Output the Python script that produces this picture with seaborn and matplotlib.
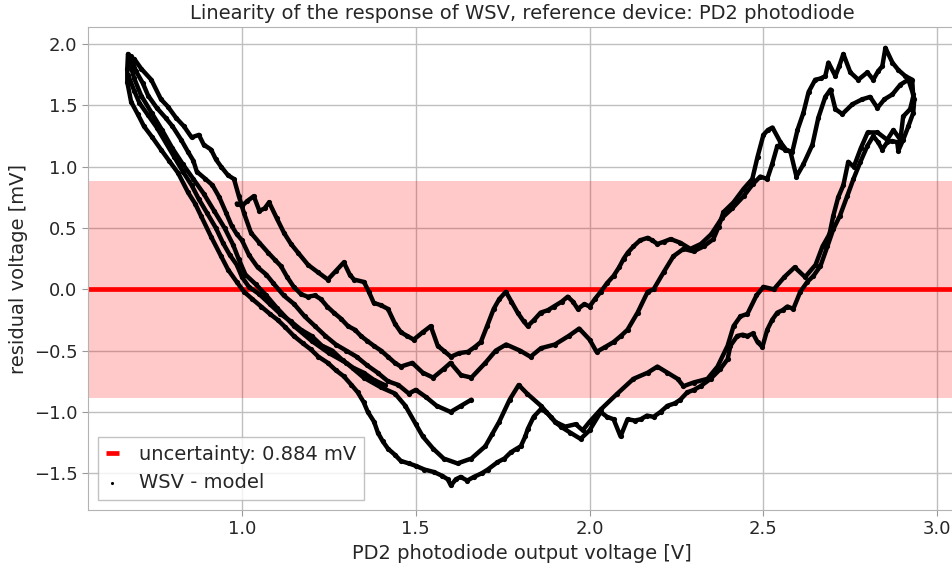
import numpy as np
import pandas as pd
import matplotlib
matplotlib.use("Agg")
import matplotlib.pyplot as plt
import seaborn as sns

# Residuals (WSV - model, mV) against PD2 photodiode output voltage (V),
# one list of (voltage, residual) points per sweep of the light level.
sweep_1 = [
    (0.672, 1.92), (0.670, 1.80), (0.670, 1.69), (0.681, 1.53), (0.700, 1.43), (0.718, 1.33),
    (0.742, 1.24), (0.767, 1.14), (0.790, 1.05), (0.816, 0.95), (0.845, 0.79), (0.865, 0.70),
    (0.882, 0.60), (0.911, 0.43), (0.940, 0.27), (0.960, 0.16), (0.985, 0.06), (1.006, -0.02),
    (1.030, -0.08), (1.055, -0.14), (1.080, -0.20), (1.103, -0.25), (1.125, -0.31), (1.149, -0.38),
    (1.175, -0.44), (1.198, -0.49), (1.220, -0.55), (1.247, -0.60), (1.270, -0.66), (1.293, -0.71),
    (1.315, -0.78), (1.333, -0.84), (1.350, -0.92), (1.362, -1.00), (1.380, -1.08), (1.391, -1.17),
    (1.405, -1.24), (1.420, -1.30), (1.440, -1.35), (1.457, -1.40), (1.480, -1.42), (1.500, -1.44),
    (1.525, -1.47), (1.552, -1.49), (1.575, -1.52), (1.592, -1.55), (1.601, -1.60), (1.615, -1.55),
    (1.629, -1.53), (1.648, -1.56), (1.667, -1.53), (1.690, -1.50), (1.707, -1.47), (1.735, -1.41),
    (1.755, -1.38), (1.773, -1.33), (1.790, -1.30), (1.802, -1.28), (1.815, -1.20), (1.822, -1.14),
    (1.839, -1.04), (1.859, -0.98), (1.875, -1.00), (1.888, -1.04), (1.905, -1.09), (1.917, -1.12),
    (1.945, -1.17), (1.974, -1.22), (2.000, -1.15), (2.032, -1.00), (2.050, -1.04), (2.069, -1.06),
    (2.089, -1.20), (2.109, -1.06), (2.130, -1.07), (2.147, -1.06), (2.165, -1.03), (2.184, -1.04),
    (2.204, -1.00), (2.224, -0.95), (2.245, -0.93), (2.261, -0.90), (2.281, -0.84), (2.300, -0.82),
    (2.319, -0.79), (2.348, -0.73), (2.376, -0.65), (2.397, -0.57), (2.405, -0.46), (2.425, -0.38),
    (2.440, -0.37), (2.454, -0.38), (2.470, -0.36), (2.483, -0.43), (2.497, -0.47), (2.511, -0.33),
    (2.525, -0.25), (2.540, -0.19), (2.555, -0.17), (2.569, -0.14), (2.586, -0.16), (2.606, -0.02),
    (2.626, 0.06), (2.644, 0.11), (2.664, 0.19), (2.684, 0.35), (2.701, 0.49), (2.720, 0.60),
    (2.741, 0.76), (2.759, 0.90), (2.779, 1.04), (2.799, 1.17), (2.816, 1.25), (2.830, 1.20),
    (2.842, 1.14), (2.856, 1.20), (2.870, 1.21), (2.885, 1.20), (2.888, 1.13), (2.902, 1.22),
    (2.917, 1.33), (2.931, 1.44), (2.934, 1.55),
]

sweep_2 = [
    (0.676, 1.86), (0.690, 1.72), (0.710, 1.58), (0.740, 1.44), (0.770, 1.30), (0.800, 1.15),
    (0.830, 1.02), (0.860, 0.90), (0.890, 0.78), (0.920, 0.64), (0.950, 0.50), (0.975, 0.36),
    (0.990, 0.25), (1.010, 0.12), (1.040, 0.04), (1.070, -0.05), (1.100, -0.15), (1.150, -0.30),
    (1.200, -0.42), (1.250, -0.52), (1.300, -0.60), (1.350, -0.72), (1.400, -0.80), (1.440, -0.85),
    (1.470, -0.95), (1.500, -1.10), (1.520, -1.20), (1.550, -1.30), (1.580, -1.38), (1.620, -1.42),
    (1.660, -1.38), (1.700, -1.28), (1.720, -1.18), (1.740, -1.08), (1.770, -0.90), (1.796, -0.78),
    (1.820, -0.85), (1.860, -0.95), (1.900, -1.08), (1.930, -1.12), (1.960, -1.10), (1.980, -1.15),
    (2.000, -1.08), (2.032, -0.98), (2.080, -0.85), (2.126, -0.73), (2.167, -0.68), (2.195, -0.63),
    (2.224, -0.68), (2.253, -0.73), (2.270, -0.79), (2.299, -0.76), (2.339, -0.73), (2.368, -0.63),
    (2.397, -0.46), (2.414, -0.30), (2.434, -0.22), (2.454, -0.20), (2.480, -0.05), (2.500, 0.02),
    (2.530, 0.00), (2.560, 0.10), (2.590, 0.18), (2.620, 0.10), (2.650, 0.20), (2.670, 0.35),
    (2.690, 0.45), (2.701, 0.60), (2.715, 0.75), (2.730, 0.85), (2.744, 1.04), (2.760, 1.00),
    (2.780, 1.15), (2.800, 1.28), (2.828, 1.28), (2.856, 1.22), (2.874, 1.30), (2.894, 1.22),
    (2.902, 1.41), (2.922, 1.47), (2.931, 1.57),
]

sweep_3 = [
    (0.690, 1.88), (0.710, 1.80), (0.739, 1.71), (0.767, 1.55), (0.787, 1.49), (0.810, 1.40),
    (0.833, 1.33), (0.855, 1.24), (0.876, 1.26), (0.890, 1.18), (0.911, 1.14), (0.925, 1.06),
    (0.940, 1.00), (0.960, 0.93), (0.977, 0.90), (0.991, 0.76), (1.006, 0.62), (1.026, 0.46),
    (1.050, 0.38), (1.075, 0.30), (1.095, 0.24), (1.112, 0.19), (1.130, 0.10), (1.149, 0.02),
    (1.170, -0.04), (1.189, -0.06), (1.210, -0.05), (1.227, -0.08), (1.245, -0.14), (1.264, -0.19),
    (1.285, -0.24), (1.305, -0.30), (1.325, -0.33), (1.342, -0.38), (1.360, -0.42), (1.379, -0.46),
    (1.400, -0.50), (1.420, -0.55), (1.440, -0.60), (1.457, -0.63), (1.490, -0.60), (1.520, -0.68),
    (1.550, -0.72), (1.580, -0.65), (1.600, -0.60), (1.630, -0.70), (1.660, -0.72), (1.700, -0.60),
    (1.730, -0.50), (1.760, -0.45), (1.800, -0.50), (1.830, -0.55), (1.860, -0.48), (1.900, -0.45),
    (1.940, -0.38), (1.970, -0.32), (2.000, -0.41), (2.020, -0.51), (2.045, -0.47), (2.069, -0.43),
    (2.090, -0.38), (2.109, -0.33), (2.138, -0.19), (2.167, -0.02), (2.184, 0.00), (2.213, 0.14),
    (2.241, 0.27), (2.270, 0.33), (2.299, 0.31), (2.328, 0.35), (2.356, 0.41), (2.371, 0.51),
    (2.385, 0.63), (2.414, 0.71), (2.443, 0.82), (2.468, 0.90), (2.483, 1.08), (2.500, 1.26),
    (2.513, 1.30), (2.526, 1.32), (2.549, 1.20), (2.565, 1.14), (2.578, 1.12), (2.595, 0.92),
    (2.615, 1.02), (2.641, 1.18), (2.658, 1.40), (2.678, 1.57), (2.693, 1.63), (2.707, 1.47),
    (2.727, 1.43), (2.756, 1.51), (2.784, 1.55), (2.807, 1.57), (2.828, 1.48), (2.848, 1.55),
    (2.871, 1.59), (2.894, 1.67), (2.917, 1.71), (2.931, 1.59),
]

sweep_4 = [
    (0.985, 0.70), (1.000, 0.68), (1.015, 0.72), (1.034, 0.76), (1.050, 0.64), (1.065, 0.66),
    (1.078, 0.71), (1.100, 0.58), (1.121, 0.46), (1.141, 0.37), (1.161, 0.30), (1.190, 0.20),
    (1.218, 0.14), (1.247, 0.08), (1.270, 0.15), (1.293, 0.22), (1.310, 0.12), (1.322, 0.08),
    (1.351, 0.06), (1.365, -0.02), (1.379, -0.11), (1.400, -0.13), (1.420, -0.16), (1.440, -0.28),
    (1.457, -0.35), (1.475, -0.38), (1.494, -0.41), (1.520, -0.35), (1.543, -0.30), (1.563, -0.46),
    (1.580, -0.50), (1.601, -0.55), (1.625, -0.52), (1.650, -0.51), (1.670, -0.47), (1.687, -0.43),
    (1.705, -0.30), (1.724, -0.16), (1.740, -0.08), (1.759, -0.02), (1.775, -0.10), (1.793, -0.19),
    (1.810, -0.26), (1.822, -0.30), (1.840, -0.25), (1.859, -0.19), (1.880, -0.17), (1.897, -0.14),
    (1.920, -0.10), (1.937, -0.06), (1.952, -0.10), (1.966, -0.16), (1.985, -0.12), (2.000, -0.14),
    (2.015, -0.08), (2.032, -0.02), (2.050, 0.05), (2.069, 0.11), (2.085, 0.18), (2.098, 0.25),
    (2.110, 0.30), (2.126, 0.35), (2.145, 0.40), (2.167, 0.42), (2.180, 0.40), (2.195, 0.37),
    (2.215, 0.39), (2.233, 0.41), (2.261, 0.38), (2.290, 0.33), (2.320, 0.37), (2.350, 0.45),
    (2.380, 0.58), (2.410, 0.66), (2.443, 0.76), (2.470, 0.86), (2.491, 0.92), (2.511, 0.90),
    (2.525, 1.02), (2.540, 1.17), (2.563, 1.14), (2.583, 1.12), (2.598, 1.30), (2.615, 1.44),
    (2.630, 1.61), (2.649, 1.71), (2.665, 1.72), (2.678, 1.74), (2.687, 1.85), (2.707, 1.74),
    (2.718, 1.82), (2.730, 1.92), (2.750, 1.77), (2.773, 1.71), (2.799, 1.77), (2.816, 1.71),
    (2.830, 1.78), (2.842, 1.82), (2.851, 1.97), (2.871, 1.85), (2.888, 1.79), (2.908, 1.74),
    (2.928, 1.71), (2.931, 1.57), (2.928, 1.49),
]

sweep_5 = [
    (0.680, 1.90), (0.695, 1.78), (0.715, 1.68), (0.730, 1.58), (0.755, 1.48), (0.780, 1.40),
    (0.800, 1.33), (0.825, 1.22), (0.845, 1.12), (0.860, 1.05), (0.870, 0.96), (0.895, 0.90),
    (0.915, 0.85), (0.935, 0.75), (0.955, 0.62), (0.970, 0.52), (0.985, 0.45), (1.000, 0.40),
    (1.020, 0.28), (1.045, 0.18), (1.070, 0.12), (1.090, 0.05), (1.120, -0.05), (1.150, -0.12),
    (1.180, -0.22), (1.210, -0.30), (1.240, -0.38), (1.270, -0.45), (1.300, -0.50), (1.330, -0.55),
    (1.360, -0.62), (1.390, -0.68), (1.420, -0.75), (1.450, -0.78), (1.480, -0.85), (1.500, -0.82),
    (1.530, -0.88), (1.560, -0.95), (1.600, -1.00), (1.630, -0.95), (1.660, -0.90),
]

sweep_6 = [
    (0.672, 1.75), (0.690, 1.62), (0.705, 1.52), (0.730, 1.42), (0.755, 1.32), (0.780, 1.20),
    (0.805, 1.08), (0.830, 0.96), (0.855, 0.85), (0.875, 0.74), (0.900, 0.62), (0.925, 0.50),
    (0.945, 0.38), (0.965, 0.28), (0.985, 0.20), (1.000, 0.10), (1.020, 0.02), (1.050, -0.04),
    (1.080, -0.12), (1.110, -0.20), (1.140, -0.26), (1.170, -0.33), (1.200, -0.38), (1.230, -0.46),
    (1.260, -0.50), (1.290, -0.58), (1.320, -0.64), (1.350, -0.68), (1.380, -0.74), (1.410, -0.78),
]

uncertainty_mv = 0.884

sweeps = [sweep_1, sweep_2, sweep_3, sweep_4, sweep_5, sweep_6]
df = pd.concat(
    [pd.DataFrame(s, columns=["voltage", "residual"]).assign(sweep=i) for i, s in enumerate(sweeps)],
    ignore_index=True,
)

sns.set_style("whitegrid", {
    "axes.edgecolor": "0.7",
    "grid.color": "0.75",
    "xtick.bottom": True,
    "ytick.left": True,
    "xtick.color": "0.15",
    "ytick.color": "0.15",
})
plt.rcParams["font.family"] = ["DejaVu Sans"]
plt.rcParams["xtick.major.size"] = 4
plt.rcParams["ytick.major.size"] = 4

fig = plt.figure(figsize=(9.52, 5.64), dpi=100)
ax = fig.add_axes([88 / 952, 54 / 564, 868 / 952, 483 / 564])

ax.axhspan(-uncertainty_mv, uncertainty_mv, color="red", alpha=0.21, lw=0, zorder=1)
ax.axhline(0, color="red", lw=3.4, solid_capstyle="butt", zorder=2,
           label=f"uncertainty: {uncertainty_mv} mV")

sns.lineplot(data=df, x="voltage", y="residual", units="sweep", estimator=None, sort=False,
             color="black", lw=3.2, legend=False, ax=ax, zorder=3)
sns.scatterplot(data=df, x="voltage", y="residual", color="black", s=14, linewidth=0,
                ax=ax, zorder=4, label="WSV - model")

ax.set_xlim(0.557, 3.054)
ax.set_ylim(-1.80, 2.14)
ax.set_xticks([1.0, 1.5, 2.0, 2.5, 3.0])
ax.set_yticks([-1.5, -1.0, -0.5, 0.0, 0.5, 1.0, 1.5, 2.0])
ax.tick_params(labelsize=13, color="0.6")
ax.set_xlabel("PD2 photodiode output voltage [V]", fontsize=14, color="0.15")
ax.set_ylabel("residual voltage [mV]", fontsize=14, color="0.15")
ax.set_title("Linearity of the response of WSV, reference device: PD2 photodiode",
             fontsize=14, color="0.15")
ax.grid(True, color="0.75", lw=1)

ax.legend(loc="lower left", fontsize=14, handlelength=0.7, handletextpad=1.0,
          markerscale=0.6, fancybox=False, framealpha=0.8, edgecolor="0.7")

fig.savefig("out.png", dpi=100)
